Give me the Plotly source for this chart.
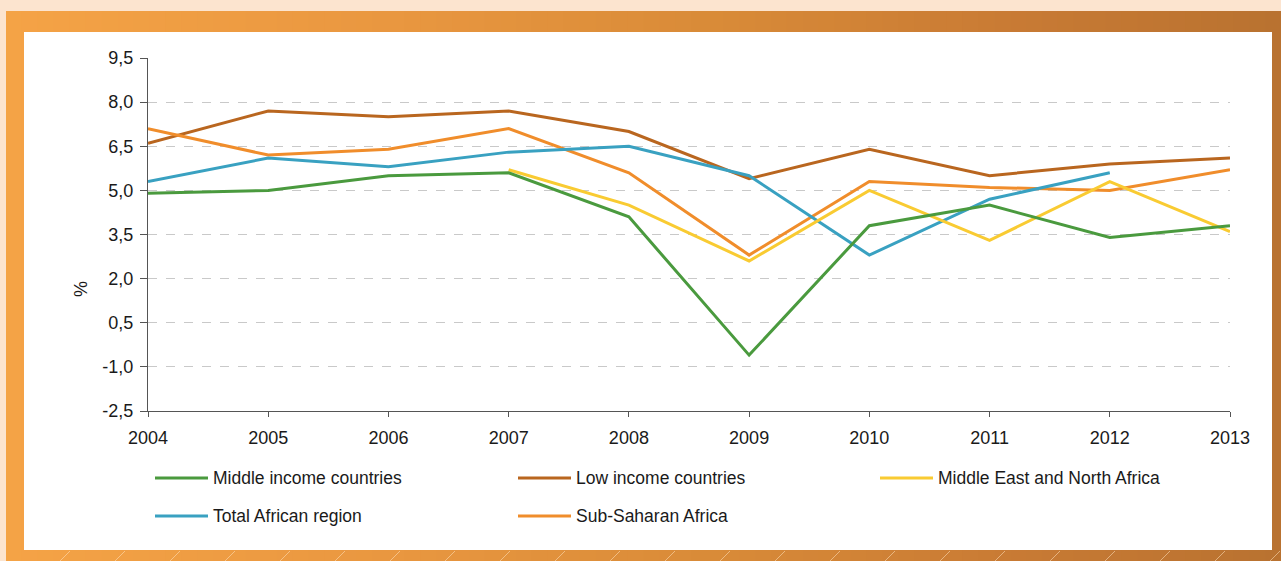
import plotly.graph_objects as go

W, H = 1281, 561

years = [2004, 2005, 2006, 2007, 2008, 2009, 2010, 2011, 2012, 2013]

middle_income = [4.9, 5.0, 5.5, 5.6, 4.1, -0.6, 3.8, 4.5, 3.4, 3.8]
low_income = [6.6, 7.7, 7.5, 7.7, 7.0, 5.4, 6.4, 5.5, 5.9, 6.1]
mena = [None, None, None, 5.7, 4.5, 2.6, 5.0, 3.3, 5.3, 3.6]
total_africa = [5.3, 6.1, 5.8, 6.3, 6.5, 5.5, 2.8, 4.7, 5.6, None]
sub_saharan = [7.1, 6.2, 6.4, 7.1, 5.6, 2.8, 5.3, 5.1, 5.0, 5.7]

y_ticks = [9.5, 8.0, 6.5, 5.0, 3.5, 2.0, 0.5, -1.0, -2.5]
y_tick_text = ["9,5", "8,0", "6,5", "5,0", "3,5", "2,0", "0,5", "-1,0", "-2,5"]

series = [
    ("Middle income countries", middle_income, "#4A9A3E"),
    ("Low income countries", low_income, "#B9661F"),
    ("Middle East and North Africa", mena, "#F9CB32"),
    ("Total African region", total_africa, "#39A1C1"),
    ("Sub-Saharan Africa", sub_saharan, "#F08D2B"),
]

FONT = "Liberation Sans, Arial, sans-serif"


def px_x(v):
    return v / W


def px_y(v):
    return 1 - v / H


fig = go.Figure()

draw_order = [1, 4, 3, 2, 0]
for i in draw_order:
    name, vals, col = series[i]
    fig.add_trace(go.Scatter(
        x=years, y=vals, mode="lines", name=name,
        line=dict(color=col, width=3), showlegend=False,
        connectgaps=False,
    ))

shapes = []

# peach outer strip
shapes.append(dict(type="rect", xref="paper", yref="paper", x0=0, x1=1, y0=0, y1=1,
                   fillcolor="#FCE4CF", line_width=0, layer="below"))


def lerp(c1, c2, t):
    return tuple(round(a + (b - a) * t) for a, b in zip(c1, c2))


stops = [(0.0, (244, 163, 70)), (0.3, (233, 151, 64)), (0.55, (217, 139, 56)),
         (0.8, (200, 122, 52)), (1.0, (185, 114, 48))]


def grad_color(t):
    for (t0, c0), (t1, c1) in zip(stops[:-1], stops[1:]):
        if t0 <= t <= t1:
            return lerp(c0, c1, (t - t0) / (t1 - t0))
    return stops[-1][1]


# orange frame with horizontal gradient
n = 80
x_start = 6
for k in range(n):
    xa = x_start + (W - x_start) * k / n
    xb = x_start + (W - x_start) * (k + 1) / n + 0.8
    c = grad_color(k / (n - 1))
    shapes.append(dict(type="rect", xref="paper", yref="paper",
                       x0=px_x(xa), x1=px_x(min(xb, W)), y0=0, y1=px_y(11),
                       fillcolor="rgb(%d,%d,%d)" % c, line_width=0, layer="below"))

# faint diagonal streaks below the panel
for xs in range(60, 1281, 55):
    shapes.append(dict(type="line", xref="paper", yref="paper",
                       x0=px_x(xs), y0=px_y(561), x1=px_x(xs + 10), y1=px_y(551),
                       line=dict(color="rgba(255,225,190,0.55)", width=1), layer="below"))

# white panel
shapes.append(dict(type="rect", xref="paper", yref="paper",
                   x0=px_x(24), x1=px_x(1272), y0=px_y(550), y1=px_y(32),
                   fillcolor="white", line_width=0, layer="below"))

annotations = []

# legend laid out in three columns
legend_pos = [(155, 478), (518, 478), (880, 478), (155, 516), (518, 516)]
for (name, vals, col), (lx, ly) in zip(series, legend_pos):
    shapes.append(dict(type="line", xref="paper", yref="paper",
                       x0=px_x(lx), x1=px_x(lx + 53), y0=px_y(ly), y1=px_y(ly),
                       line=dict(color=col, width=3)))
    annotations.append(dict(xref="paper", yref="paper", x=px_x(lx + 56), y=px_y(ly),
                            text=name, showarrow=False, xanchor="left", yanchor="middle",
                            font=dict(family=FONT, size=17.5, color="#1A1A1A")))

# y-axis title
annotations.append(dict(xref="paper", yref="paper", x=px_x(69), y=px_y(289),
                        text="%", showarrow=False, textangle=-90,
                        font=dict(family=FONT, size=18, color="#1A1A1A")))

fig.update_layout(
    width=W, height=H,
    margin=dict(l=0, r=0, t=0, b=0, pad=0, autoexpand=False),
    paper_bgcolor="#FCE4CF",
    plot_bgcolor="rgba(0,0,0,0)",
    shapes=shapes,
    annotations=annotations,
    showlegend=False,
    font=dict(family=FONT, size=18, color="#1A1A1A"),
    xaxis=dict(
        domain=[px_x(148), px_x(1230)],
        range=[2004, 2013],
        tickmode="array", tickvals=years, ticktext=[str(y) for y in years],
        showgrid=False, zeroline=False,
        showline=True, linecolor="#555555", linewidth=1,
        ticks="outside", ticklen=5, tickcolor="#555555",
        ticklabelstandoff=5,
        tickfont=dict(family=FONT, size=18, color="#1A1A1A"),
        anchor="y", automargin=False,
    ),
    yaxis=dict(
        domain=[px_y(411), px_y(58)],
        range=[-2.5, 9.5],
        tickmode="array", tickvals=y_ticks, ticktext=y_tick_text,
        showgrid=True, gridcolor="#C9C9C9", griddash="dash", gridwidth=1,
        zeroline=False,
        showline=True, linecolor="#555555", linewidth=1,
        ticks="outside", ticklen=7, tickcolor="#555555",
        ticklabelstandoff=3,
        tickfont=dict(family=FONT, size=18, color="#1A1A1A"),
        anchor="x", automargin=False,
    ),
)

fig.write_html("out.html")
